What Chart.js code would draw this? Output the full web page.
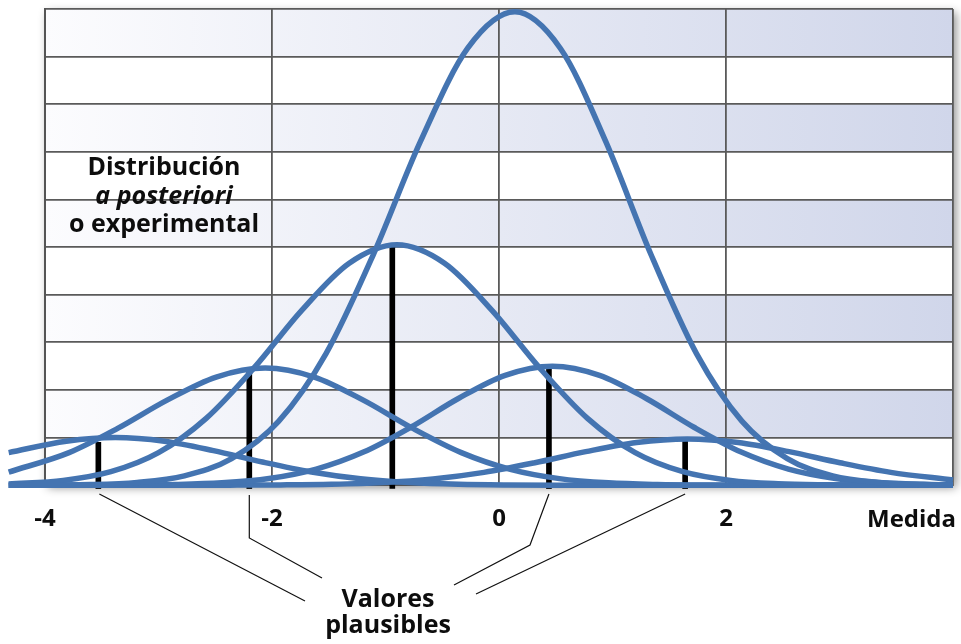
<!DOCTYPE html>
<html>
<head>
<meta charset="utf-8">
<script src="https://cdn.jsdelivr.net/npm/chart.js@4/dist/chart.umd.min.js"></script>
<style>
  html, body { margin: 0; padding: 0; background: #ffffff; }
  #wrap { width: 961px; height: 644px; position: relative; }
</style>
</head>
<body>
<div id="wrap"><canvas id="c" width="961" height="644"></canvas></div>
<script>
// ---------- data ----------
const xTickValues = [-4, -2, 0, 2, 4];
const xTickLabels = ['-4', '-2', '0', '2', ''];
const axisName = 'Medida';

// posterior / experimental distribution (tall curve)
const posteriorX = [-4.32, -3.604, -3.188, -2.772, -2.356, -1.94, -1.524, -1.108, -0.692, -0.276, 0.14, 0.54, 0.94, 1.34, 1.74, 2.14, 2.54, 2.94, 3.34, 3.74, 4.0];
const posteriorY = [0.001, 0.015, 0.059, 0.197, 0.558, 1.345, 2.763, 4.839, 7.218, 9.176, 9.94, 9.176, 7.218, 4.839, 2.763, 1.345, 0.558, 0.197, 0.059, 0.015, 0.006];

// curves around each plausible value
const curveAX = [-4.32, -3.84, -3.42, -3.00, -2.58, -2.16, -1.74, -1.32, -0.90, -0.48, -0.06, 0.36, 0.78, 1.20, 1.62, 2.04, 2.46, 2.88, 3.30, 4.0];
const curveAY = [0.025, 0.100, 0.283, 0.683, 1.404, 2.458, 3.667, 4.662, 5.05, 4.662, 3.667, 2.458, 1.404, 0.683, 0.283, 0.100, 0.030, 0.008, 0.002, 0];

const curveBX = [-4.32, -3.788, -3.356, -2.924, -2.492, -2.06, -1.628, -1.196, -0.764, -0.332, 0.10, 0.532, 0.964, 1.396, 1.828, 2.6, 4.0];
const curveBY = [0.275, 0.684, 1.198, 1.786, 2.271, 2.46, 2.271, 1.786, 1.198, 0.684, 0.333, 0.138, 0.049, 0.015, 0.004, 0, 0];

const curveCX = [-4.32, -3.69, -3.274, -2.858, -2.442, -2.026, -1.61, -1.194, -0.778, -0.362, 0.054, 0.47, 0.886, 1.302, 1.718, 2.134, 2.55, 2.966, 3.382, 3.798, 4.0];
const curveCY = [0, 0.001, 0.004, 0.015, 0.050, 0.140, 0.338, 0.695, 1.217, 1.815, 2.308, 2.50, 2.308, 1.815, 1.217, 0.695, 0.338, 0.140, 0.050, 0.015, 0.008];

const curveDX = [-4.32, -3.812, -3.38, -2.948, -2.516, -2.084, -1.652, -1.22, -0.788, -0.356, 0.076, 0.508, 2.0, 4.0];
const curveDY = [0.685, 0.923, 1.00, 0.923, 0.726, 0.487, 0.278, 0.135, 0.056, 0.020, 0.006, 0.0015, 0, 0];

const curveEX = [-4.32, -3.0, -2.372, -1.924, -1.476, -1.028, -0.58, -0.132, 0.316, 0.764, 1.212, 1.66, 2.108, 2.556, 3.004, 3.452, 4.0];
const curveEY = [0, 0, 0.0015, 0.006, 0.019, 0.054, 0.131, 0.270, 0.472, 0.704, 0.895, 0.97, 0.895, 0.704, 0.472, 0.270, 0.109];

// plausible values (black bars)
const plausibleValues  = [-3.53, -2.20, -0.94, 0.44, 1.64];
const plausibleHeights = [0.90, 2.42, 5.00, 2.46, 0.945];

const labelPosterior = ['Distribución', 'a posteriori', 'o experimental'];
const labelPlausible = ['Valores', 'plausibles'];

// ---------- helpers ----------
const toPoints = (xs, ys) => xs.map((x, i) => ({ x: x, y: ys[i] }));
const BLUE = '#4474b1';
const curveStyle = {
  type: 'line',
  borderColor: BLUE,
  borderWidth: 5.5,
  pointRadius: 0,
  pointHoverRadius: 0,
  fill: false,
  cubicInterpolationMode: 'monotone',
  clip: false,
  order: 0
};

const curveSets = [
  [posteriorX, posteriorY],
  [curveAX, curveAY],
  [curveBX, curveBY],
  [curveCX, curveCY],
  [curveDX, curveDY],
  [curveEX, curveEY]
];

const datasets = curveSets.map(([xs, ys]) => Object.assign({}, curveStyle, { data: toPoints(xs, ys) }));
datasets.push({
  type: 'bar',
  data: toPoints(plausibleValues, plausibleHeights),
  backgroundColor: '#000000',
  borderWidth: 0,
  barThickness: 5,
  base: -0.07,
  grouped: false,
  clip: false,
  order: 1
});

// ---------- plugins ----------
const backgroundPlugin = {
  id: 'bgRows',
  beforeDraw(chart) {
    const { ctx, chartArea: a, scales } = chart;
    const y = scales.y;
    ctx.save();
    ctx.shadowColor = 'rgba(0,0,0,0.45)';
    ctx.shadowBlur = 9;
    ctx.shadowOffsetX = 3;
    ctx.shadowOffsetY = 3;
    ctx.fillStyle = '#ffffff';
    ctx.fillRect(a.left, a.top, a.width, a.height);
    ctx.restore();
    ctx.save();
    const g = ctx.createLinearGradient(a.left, 0, a.right, 0);
    g.addColorStop(0, '#fcfcfe');
    g.addColorStop(1, '#d0d6ea');
    ctx.fillStyle = g;
    for (let v = 1; v < 10; v += 2) {
      const top = y.getPixelForValue(v + 1);
      const bot = y.getPixelForValue(v);
      ctx.fillRect(a.left, top, a.width, bot - top);
    }
    ctx.restore();
  }
};

const annotationPlugin = {
  id: 'annot',
  afterDraw(chart) {
    const { ctx, chartArea: a, scales } = chart;
    const x = scales.x;
    ctx.save();
    ctx.fillStyle = '#0d0d0d';
    ctx.textAlign = 'center';
    ctx.textBaseline = 'alphabetic';
    // posterior label
    ctx.font = 'bold 25px "Open Sans"';
    ctx.fillText(labelPosterior[0], 164, 175);
    ctx.font = 'italic bold 25px "Open Sans"';
    ctx.fillText(labelPosterior[1], 164, 204);
    ctx.font = 'bold 25px "Open Sans"';
    ctx.fillText(labelPosterior[2], 164, 232);
    // plausible label
    ctx.fillText(labelPlausible[0], 388, 607);
    ctx.fillText(labelPlausible[1], 388, 633);
    // axis name
    ctx.font = 'bold 24px "Open Sans"';
    ctx.textAlign = 'right';
    ctx.fillText(axisName, 956, 527);

    // connector lines from the bars to the label
    const px = plausibleValues.map(v => x.getPixelForValue(v));
    ctx.strokeStyle = '#111111';
    ctx.lineWidth = 1.2;
    ctx.beginPath();
    ctx.moveTo(px[0] + 1, 494); ctx.lineTo(305, 601);
    ctx.moveTo(px[1], 495); ctx.lineTo(px[1], 538); ctx.lineTo(322, 578);
    ctx.moveTo(px[3], 494); ctx.lineTo(530, 545); ctx.lineTo(454, 585);
    ctx.moveTo(px[4], 494); ctx.lineTo(476, 594);
    ctx.stroke();
    ctx.restore();
  }
};

// ---------- chart ----------
new Chart(document.getElementById('c'), {
  data: { datasets: datasets },
  options: {
    responsive: false,
    animation: false,
    events: [],
    layout: { padding: { left: 45, right: 8, top: 9, bottom: 90 } },
    plugins: { legend: { display: false }, tooltip: { enabled: false } },
    elements: { line: { capBezierPoints: false } },
    scales: {
      x: {
        type: 'linear',
        min: -4,
        max: 4,
        offset: false,
        afterBuildTicks: (scale) => { scale.ticks = xTickValues.map(v => ({ value: v })); },
        afterFit: (scale) => { scale.paddingLeft = 0; scale.paddingRight = 0; },
        ticks: {
          autoSkip: false,
          maxRotation: 0,
          padding: 20,
          color: '#0d0d0d',
          font: { family: 'Open Sans', size: 24, weight: 'bold' },
          callback: (value, index) => xTickLabels[index]
        },
        grid: { offset: false, color: '#5a5a5a', lineWidth: 1.8, drawTicks: false },
        border: { display: true, color: '#555555', width: 2 }
      },
      y: {
        type: 'linear',
        min: 0,
        max: 10,
        ticks: { display: false, stepSize: 1 },
        grid: { color: '#5a5a5a', lineWidth: 1.8, drawTicks: false },
        border: { display: true, color: '#555555', width: 2 }
      }
    }
  },
  plugins: [backgroundPlugin, annotationPlugin]
});
</script>
</body>
</html>
